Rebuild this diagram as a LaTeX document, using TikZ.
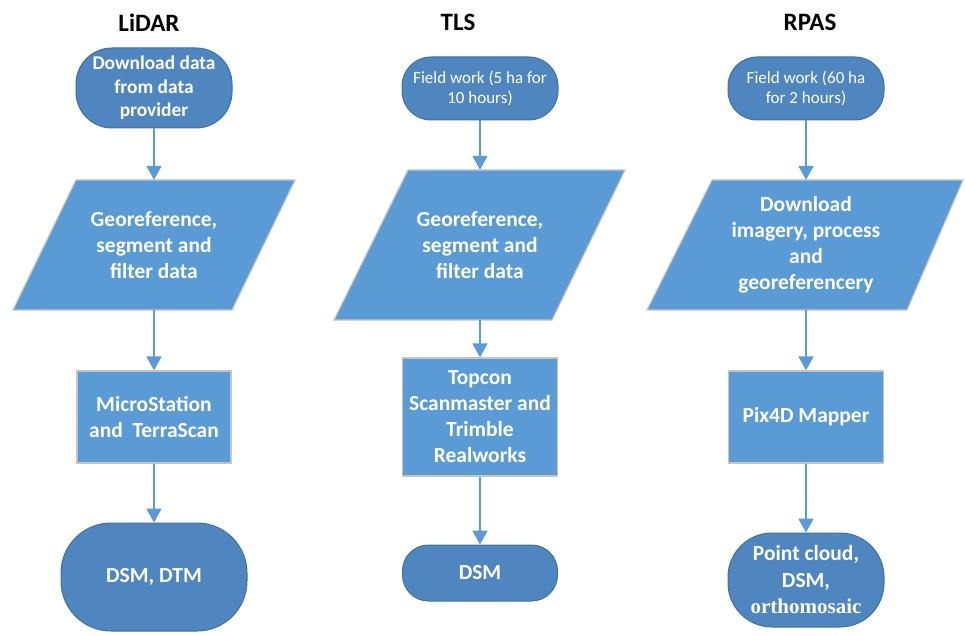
\documentclass[tikz,border=0pt]{standalone}
\usepackage{fontspec}
\setmainfont{Carlito}
\newfontfamily\serifbold{Liberation Serif}
\usetikzlibrary{arrows.meta}
\definecolor{termfill}{HTML}{4F86C0}
\definecolor{termline}{HTML}{41719C}
\definecolor{procfill}{HTML}{5B9BD5}
\definecolor{procline}{HTML}{C4C4C4}
\definecolor{arrowcol}{HTML}{5B9BD5}
\tikzset{
  hdr/.style={font=\fontsize{25}{30}\selectfont\bfseries, text=black, inner sep=0pt},
  term/.style={draw=termline, line width=1pt, fill=termfill, text=white, align=center, inner sep=0pt,
     font=\fontsize{21.5}{26.5}\selectfont\bfseries},
  termreg/.style={term, font=\fontsize{17}{20.7}\selectfont},
  proc/.style={draw=procline, line width=1.2pt, fill=procfill, text=white, align=center, inner sep=0pt,
     font=\fontsize{21.5}{26}\selectfont\bfseries},
  pgram/.style={draw=procline, line width=1.2pt, fill=procfill},
  ptext/.style={draw=none, text=white, align=center, inner sep=0pt,
     font=\fontsize{21.5}{26}\selectfont\bfseries},
  arr/.style={draw=arrowcol, line width=2pt, -{Triangle[width=15pt,length=14pt]}},
}
\begin{document}
\begin{tikzpicture}[x=1pt,y=-1pt]
\useasboundingbox (0,0) rectangle (965,636);
% headers
\node[hdr] (h1) at (149,22.5) {LiDAR};
\node[hdr] (h2) at (458,22.5) {TLS};
\node[hdr] (h3) at (810,22.5) {RPAS};

% ---------- LiDAR column ----------
\node[term, minimum width=156pt, minimum height=80pt, rounded corners=36pt,
      font=\fontsize{19.4}{23.5}\selectfont\bfseries] (t1) at (154,88)
      {Download data\\from data\\provider};
\draw[pgram] (76,180) -- (295,180) -- (232,310) -- (13,310) -- cycle;
\node[ptext, minimum width=150pt, minimum height=130pt] (p1) at (154,245)
      {Georeference,\\segment and\\filter data};
\node[proc, minimum width=154pt, minimum height=92pt] (r1) at (154,417)
      {MicroStation\\and\ \ TerraScan};
\node[term, minimum width=186pt, minimum height=108pt, rounded corners=50pt] (e1) at (154,577)
      {DSM, DTM};

% ---------- TLS column ----------
\node[termreg, minimum width=156pt, minimum height=63pt, rounded corners=29pt] (t2) at (480,88.5)
      {Field work (5 ha for\\10 hours)};
\draw[pgram] (408,170) -- (625,170) -- (552,320) -- (334,320) -- cycle;
\node[ptext, minimum width=150pt, minimum height=150pt] (p2) at (480,245)
      {Georeference,\\segment and\\filter data};
\node[proc, minimum width=155pt, minimum height=118pt] (r2) at (480,417)
      {Topcon\\Scanmaster and\\Trimble\\Realworks};
\node[term, minimum width=155pt, minimum height=56pt, rounded corners=26pt] (e2) at (480,573)
      {DSM};

% ---------- RPAS column ----------
\node[termreg, minimum width=156pt, minimum height=63pt, rounded corners=29pt] (t3) at (806,88.5)
      {Field work (60 ha\\for 2 hours)};
\draw[pgram] (712,180) -- (963,180) -- (907,310) -- (647,310) -- cycle;
\node[ptext, minimum width=180pt, minimum height=130pt] (p3) at (806,245)
      {Download\\imagery, process\\and\\georeferencery};
\node[proc, minimum width=155pt, minimum height=92pt] (r3) at (806,417)
      {Pix4D Mapper};
\node[term, minimum width=156pt, minimum height=94pt, rounded corners=44pt] (e3) at (806,580)
      {Point cloud,\\DSM,\\{\serifbold\fontsize{21}{26}\selectfont orthomosaic}};

% ---------- arrows ----------
\draw[arr] (t1.south) -- (p1.north);
\draw[arr] (p1.south) -- (r1.north);
\draw[arr] (r1.south) -- (e1.north);
\draw[arr] (t2.south) -- (p2.north);
\draw[arr] (p2.south) -- (r2.north);
\draw[arr] (r2.south) -- (e2.north);
\draw[arr] (t3.south) -- (p3.north);
\draw[arr] (p3.south) -- (r3.north);
\draw[arr] (r3.south) -- (e3.north);
\end{tikzpicture}
\end{document}
